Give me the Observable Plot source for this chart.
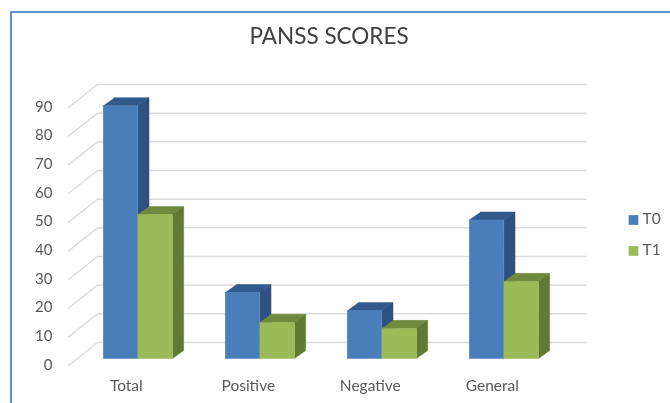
<!DOCTYPE html>
<html>
<head>
<meta charset="utf-8">
<script src="https://cdn.jsdelivr.net/npm/d3@7"></script>
<script src="https://cdn.jsdelivr.net/npm/@observablehq/plot@0.6"></script>
<style>
html,body{margin:0;padding:0;background:#fff;overflow:hidden}
#wrap{position:relative;width:670px;height:403px;overflow:hidden}
#wrap svg{display:block;filter:blur(0.45px)}
#edge{position:absolute;left:10px;top:11px;right:-5px;bottom:-5px;border-left:2px solid #5f93d3;border-top:2px solid #5f93d3}
</style>
</head>
<body>
<div id="wrap"><div id="edge"></div></div>
<script>
const chartTitle = "PANSS SCORES";
const categories = ["Total", "Positive", "Negative", "General"];
const seriesNames = ["T0", "T1"];
const t0 = [88.2, 23, 16.7, 48.3];
const t1 = [50.2, 12.6, 10.5, 26.9];
const yTicks = [0, 10, 20, 30, 40, 50, 60, 70, 80, 90];

const front = ["#4a7ebb", "#9bbb59"];
const top_ = ["#335a8c", "#6f8a3e"];
const side = ["#2f5180", "#617a33"];
const gridColor = "#dcdcdc", textColor = "#595959";

// depth offsets, in data units of the x and y scales
const barHalf = 0.284, depthX = 0.092, depthY = 2.8;
const backX = -0.33, backOffset = 5.58, leftX = -0.568, leftOffset = -2.44, rightX = 3.676;

const grid = yTicks.flatMap(v => [
  {id: v, x: leftX, y: v + leftOffset},
  {id: v, x: backX, y: v + backOffset},
  {id: v, x: rightX, y: v + backOffset}
]);

const faces = [];
categories.forEach((c, i) => {
  [t0[i], t1[i]].forEach((v, s) => {
    const a = i - barHalf + s * barHalf, b = a + barHalf;
    const add = (f, fill, pts) => pts.forEach(([x, y]) => faces.push({id: `${c}-${s}-${f}`, fill, x, y}));
    add("top", top_[s], [[a, v], [b, v], [b + depthX, v + depthY], [a + depthX, v + depthY]]);
    add("side", side[s], [[b, 0], [b + depthX, depthY], [b + depthX, v + depthY], [b, v]]);
    add("front", front[s], [[a, 0], [b, 0], [b, v], [a, v]]);
  });
});

const font = "Lato, sans-serif";
const plot = Plot.plot({
  width: 670, height: 403,
  marginLeft: 0, marginRight: 0, marginTop: 0, marginBottom: 0,
  style: {fontFamily: font, background: "transparent"},
  x: {type: "linear", domain: [0, 3], range: [137.3, 503.3]},
  y: {type: "linear", domain: [0, 90], range: [358, 100]},
  color: {type: "identity"},
  marks: [
    Plot.line(grid, {x: "x", y: "y", z: "id", stroke: gridColor, strokeWidth: 1.5}),
    Plot.line(faces, {x: "x", y: "y", z: "id", fill: "fill", stroke: "fill", strokeWidth: 0.5}),
    Plot.axisY({ticks: yTicks, anchor: "left", tickSize: 0, tickPadding: 0, label: null, dx: 52, dy: 6.5,
      fontSize: 15, fill: textColor, tickFormat: d => String(d)}),
    Plot.axisX({ticks: [0, 1, 2, 3], anchor: "bottom", tickSize: 0, tickPadding: 0, label: null, dx: -11.5, dy: -24,
      fontSize: 15.5, fill: textColor, tickFormat: i => categories[i]}),
    Plot.text([chartTitle], {text: d => d, frameAnchor: "top", dx: -6.5, dy: 28, lineAnchor: "top",
      fontSize: 22.5, fill: "#404040"}),
    ...seriesNames.flatMap((s, k) => [
      Plot.dot([s], {frameAnchor: "top-left", dx: 633, dy: 219.5 + 31 * k, symbol: "square", r: 5.5,
        fill: front[k], stroke: null}),
      Plot.text([s], {text: d => d, frameAnchor: "top-left", dx: 642, dy: 219 + 31 * k, textAnchor: "start",
        lineAnchor: "middle", fontSize: 15.5, fill: textColor})
    ])
  ]
});
document.getElementById("wrap").appendChild(plot);
</script>
</body>
</html>
